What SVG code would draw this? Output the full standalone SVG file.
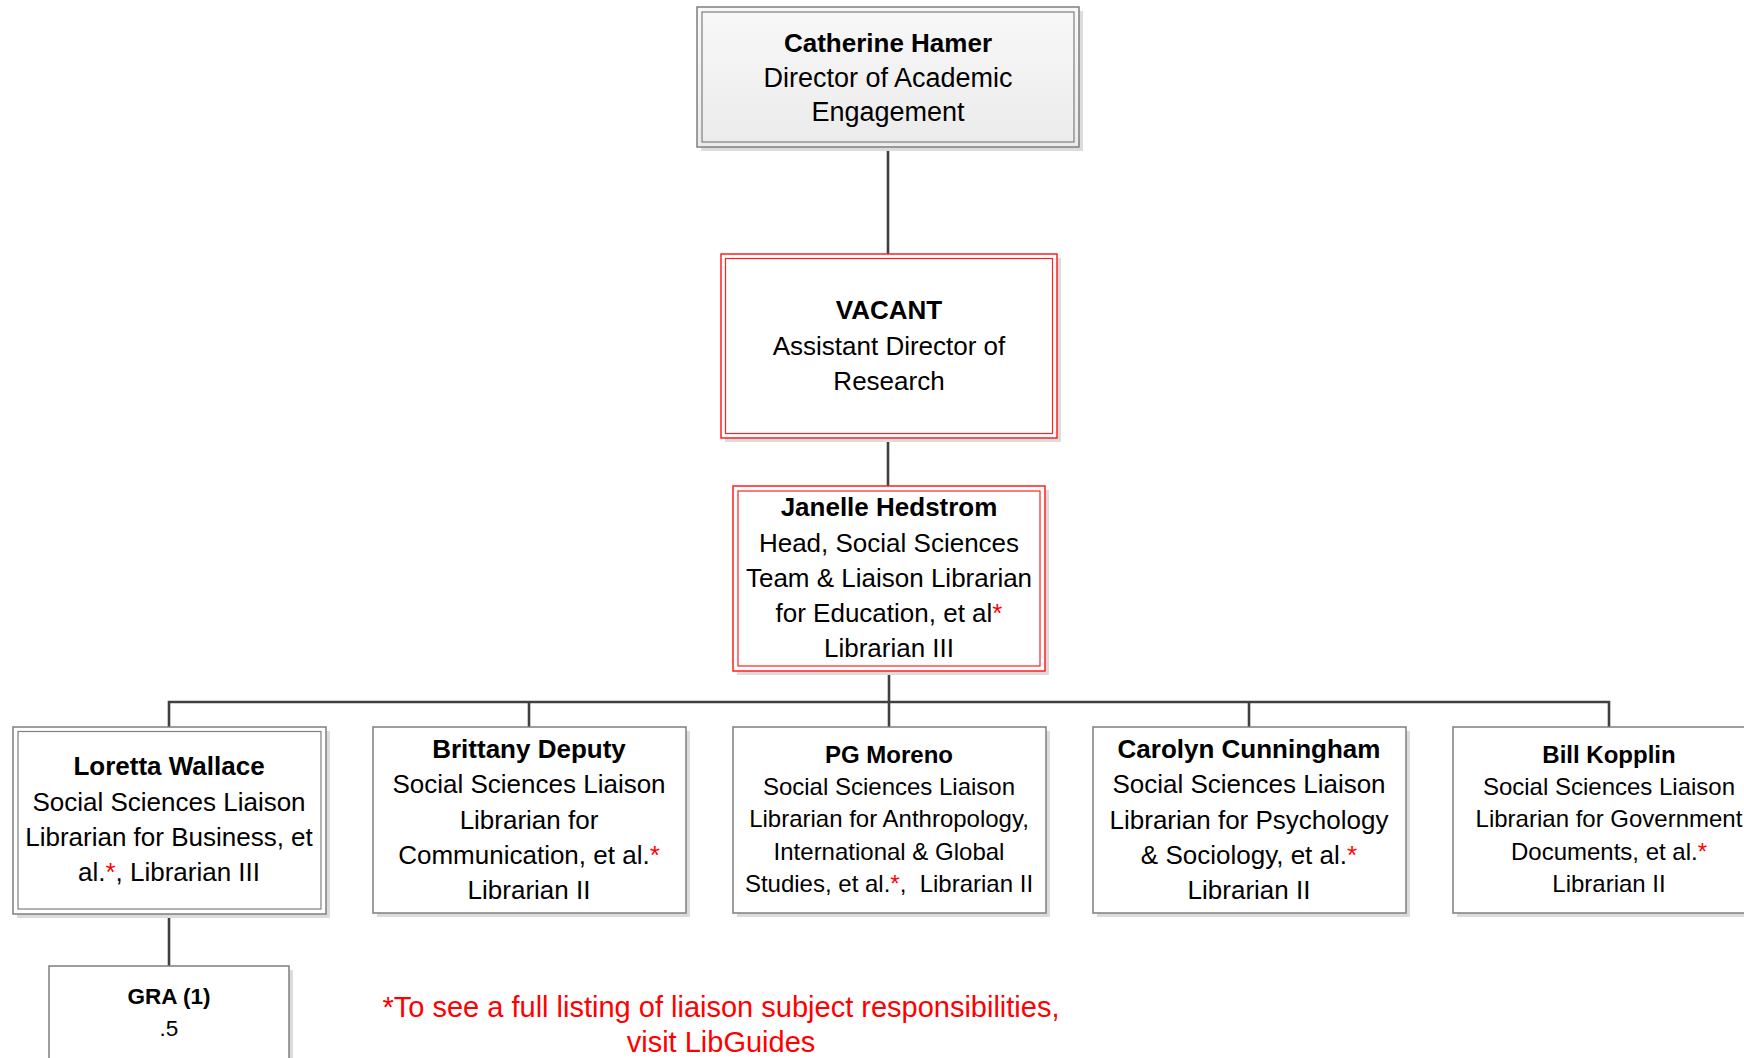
<svg xmlns="http://www.w3.org/2000/svg" width="1744" height="1058" viewBox="0 0 1744 1058">
<defs>
<linearGradient id="topfill" x1="0" y1="0" x2="0" y2="1">
<stop offset="0" stop-color="#f8f8f8"/>
<stop offset="1" stop-color="#ebebeb"/>
</linearGradient>
</defs>
<style>
.shadow{fill:#dcdcdc;stroke:none}
.box{fill:#ffffff;stroke:#7f7f7f;stroke-width:1.5}
.inner{fill:none;stroke:#7f7f7f;stroke-width:1.2}
.rbox{fill:#ffffff;stroke:#ff2020;stroke-width:1.5}
.rinner{fill:none;stroke:#ff2020;stroke-width:1.2}
.conn{fill:none;stroke:#404040;stroke-width:2.6}
text{font-family:"Liberation Sans",Arial,sans-serif;fill:#000;text-anchor:middle}
.t26{font-size:26px}
.t27{font-size:27px}
.t24{font-size:24px}
.t22{font-size:22.5px}
.b{font-weight:bold}
.ast{fill:#ff0000}
.note{font-size:29px;fill:#ff0000}
</style>
<rect width="1744" height="1058" fill="#ffffff"/>

<g id="connectors">
<path class="conn" d="M888,147 V254"/>
<path class="conn" d="M888,438 V486"/>
<path class="conn" d="M889,671 V702"/>
<path class="conn" d="M169,727 V702 H1609 V727"/>
<path class="conn" d="M529,702 V727"/>
<path class="conn" d="M889,702 V727"/>
<path class="conn" d="M1249,702 V727"/>
<path class="conn" d="M169,914 V966"/>
</g>

<g id="catherine">
<rect class="shadow" x="701" y="11" width="382" height="140"/>
<rect class="box" x="697" y="7" width="382" height="140" style="fill:url(#topfill)"/>
<rect class="inner" x="702" y="12" width="372" height="130"/>
<text class="t26 b" x="888" y="52">Catherine Hamer</text>
<text class="t27" x="888" y="87">Director of Academic</text>
<text class="t27" x="888" y="121">Engagement</text>
</g>

<g id="vacant">
<rect class="shadow" x="725" y="258" width="336" height="184"/>
<rect class="rbox" x="721" y="254" width="336" height="184"/>
<rect class="rinner" x="725.5" y="258.5" width="327" height="175"/>
<text class="t26 b" x="889" y="319">VACANT</text>
<text class="t26" x="889" y="355">Assistant Director of</text>
<text class="t26" x="889" y="390">Research</text>
</g>

<g id="janelle">
<rect class="shadow" x="737" y="490" width="312" height="185"/>
<rect class="rbox" x="733" y="486" width="312" height="185"/>
<rect class="rinner" x="738" y="491" width="302" height="175"/>
<text class="t26 b" x="889" y="516">Janelle Hedstrom</text>
<text class="t26" x="889" y="552">Head, Social Sciences</text>
<text class="t26" x="889" y="587">Team &amp; Liaison Librarian</text>
<text class="t26" x="889" y="622">for Education, et al<tspan class="ast">*</tspan></text>
<text class="t26" x="889" y="657">Librarian III</text>
</g>

<g id="loretta">
<rect class="shadow" x="17" y="731" width="313" height="187"/>
<rect class="box" x="13" y="727" width="313" height="187"/>
<rect class="inner" x="18" y="731.5" width="303" height="177.5"/>
<text class="t26 b" x="169" y="775">Loretta Wallace</text>
<text class="t26" x="169" y="811">Social Sciences Liaison</text>
<text class="t26" x="169" y="846">Librarian for Business, et</text>
<text class="t26" x="169" y="881">al.<tspan class="ast">*</tspan>, Librarian III</text>
</g>

<g id="brittany">
<rect class="shadow" x="377" y="731" width="313" height="186"/>
<rect class="box" x="373" y="727" width="313" height="186"/>
<text class="t26 b" x="529" y="758">Brittany Deputy</text>
<text class="t26" x="529" y="793">Social Sciences Liaison</text>
<text class="t26" x="529" y="829">Librarian for</text>
<text class="t26" x="529" y="864">Communication, et al.<tspan class="ast">*</tspan></text>
<text class="t26" x="529" y="899">Librarian II</text>
</g>

<g id="pgmoreno">
<rect class="shadow" x="737" y="731" width="313" height="186"/>
<rect class="box" x="733" y="727" width="313" height="186"/>
<text class="t24 b" x="889" y="763">PG Moreno</text>
<text class="t24" x="889" y="795">Social Sciences Liaison</text>
<text class="t24" x="889" y="827">Librarian for Anthropology,</text>
<text class="t24" x="889" y="860">International &amp; Global</text>
<text class="t24" x="889" y="892" xml:space="preserve">Studies, et al.<tspan class="ast">*</tspan>,  Librarian II</text>
</g>

<g id="carolyn">
<rect class="shadow" x="1097" y="731" width="313" height="186"/>
<rect class="box" x="1093" y="727" width="313" height="186"/>
<text class="t26 b" x="1249" y="758">Carolyn Cunningham</text>
<text class="t26" x="1249" y="793">Social Sciences Liaison</text>
<text class="t26" x="1249" y="829">Librarian for Psychology</text>
<text class="t26" x="1249" y="864">&amp; Sociology, et al.<tspan class="ast">*</tspan></text>
<text class="t26" x="1249" y="899">Librarian II</text>
</g>

<g id="bill">
<rect class="shadow" x="1457" y="731" width="313" height="186"/>
<rect class="box" x="1453" y="727" width="313" height="186"/>
<text class="t24 b" x="1609" y="763">Bill Kopplin</text>
<text class="t24" x="1609" y="795">Social Sciences Liaison</text>
<text class="t24" x="1609" y="827">Librarian for Government</text>
<text class="t24" x="1609" y="860">Documents, et al.<tspan class="ast">*</tspan></text>
<text class="t24" x="1609" y="892">Librarian II</text>
</g>

<g id="gra">
<rect class="shadow" x="53" y="970" width="240" height="120"/>
<rect class="box" x="49" y="966" width="240" height="120"/>
<text class="t22 b" x="169" y="1004">GRA (1)</text>
<text class="t22" x="169" y="1036">.5</text>
</g>

<g id="footnote">
<text class="note" x="721" y="1017">*To see a full listing of liaison subject responsibilities,</text>
<text class="note" x="721" y="1052">visit LibGuides</text>
</g>
</svg>
